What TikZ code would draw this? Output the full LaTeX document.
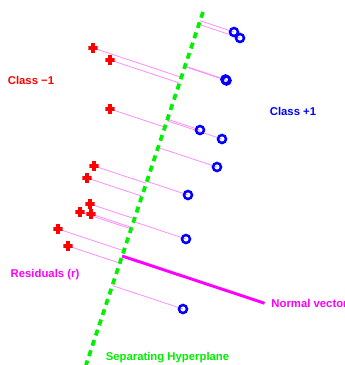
\documentclass[tikz,border=0pt]{standalone}
\usepackage{fontspec}
\setmainfont{Liberation Sans}
\usetikzlibrary{positioning, backgrounds, calc}
\definecolor{hypgreen}{RGB}{0,240,0}
\definecolor{resmag}{RGB}{255,0,255}
\tikzset{
    base/.style = {inner sep=0pt, font=\bfseries\fontsize{8.5}{10}\selectfont},
    % Samples
    neg/.style   = {rectangle, inner sep=0pt, minimum size=7pt,
        path picture={\draw [red, line width=2.3pt]
            (path picture bounding box.north) -- (path picture bounding box.south)
            (path picture bounding box.west) -- (path picture bounding box.east);}},
    posi/.style  = {circle, draw=blue, line width=1.9pt, minimum size=6pt, inner sep=0pt},
    % Lines and labels
    plane/.style    = {draw=hypgreen, line width=2.8pt, dash pattern=on 4.5pt off 3.6pt},
    residual/.style = {draw=resmag!45, line width=0.6pt},
    normal/.style   = {draw=resmag, line width=2.2pt},
    annotation/.style = {base, text=resmag}
}

\begin{document}
\begin{tikzpicture}[x=0.75pt, y=-0.75pt]
    \useasboundingbox (0,0) rectangle (345,365);

    % Hyperplane and its normal
    \coordinate (hA) at (203,12);
    \coordinate (hB) at (86,365);
    \draw [plane] (hA) -- (hB);
    \coordinate (n0) at ($(hA)!(122,256)!(hB)$);
    \coordinate (n1) at ($(n0)+(142.4,47.2)$);
    \draw [normal] (n0) -- (n1);

    % Class +1
    \node (c1) [posi] at (234,32) {};
    \node (c2) [posi] at (240,38) {};
    \node (c3) [posi] at (225.5,79.5) {};
    \node (c4) [posi] at (226.5,80.5) {};
    \node (c5) [posi] at (200,130) {};
    \node (c6) [posi] at (222,139) {};
    \node (c7) [posi] at (217,167) {};
    \node (c8) [posi] at (188,195) {};
    \node (c9) [posi] at (186,239) {};
    \node (c10) [posi] at (183,309) {};

    % Class -1
    \node (m1) [neg] at (93,48) {};
    \node (m2) [neg] at (110,60) {};
    \node (m3) [neg] at (110,109) {};
    \node (m4) [neg] at (94,166) {};
    \node (m5) [neg] at (87,178) {};
    \node (m6) [neg] at (90,204) {};
    \node (m7) [neg] at (80,212) {};
    \node (m8) [neg] at (91,214) {};
    \node (m9) [neg] at (58,229) {};
    \node (m10) [neg] at (68,246) {};

    % Residuals
    \begin{scope}[on background layer]
        \draw [residual] (c1.center) -- ($(hA)!(c1)!(hB)$);
        \draw [residual] (c2.center) -- ($(hA)!(c2)!(hB)$);
        \draw [residual] (c3.center) -- ($(hA)!(c3)!(hB)$);
        \draw [residual] (c4.center) -- ($(hA)!(c4)!(hB)$);
        \draw [residual] (c5.center) -- ($(hA)!(c5)!(hB)$);
        \draw [residual] (c6.center) -- ($(hA)!(c6)!(hB)$);
        \draw [residual] (c7.center) -- ($(hA)!(c7)!(hB)$);
        \draw [residual] (c8.center) -- ($(hA)!(c8)!(hB)$);
        \draw [residual] (c9.center) -- ($(hA)!(c9)!(hB)$);
        \draw [residual] (c10.center) -- ($(hA)!(c10)!(hB)$);
        \draw [residual] (m1.center) -- ($(hA)!(m1)!(hB)$);
        \draw [residual] (m2.center) -- ($(hA)!(m2)!(hB)$);
        \draw [residual] (m3.center) -- ($(hA)!(m3)!(hB)$);
        \draw [residual] (m4.center) -- ($(hA)!(m4)!(hB)$);
        \draw [residual] (m5.center) -- ($(hA)!(m5)!(hB)$);
        \draw [residual] (m6.center) -- ($(hA)!(m6)!(hB)$);
        \draw [residual] (m7.center) -- ($(hA)!(m7)!(hB)$);
        \draw [residual] (m8.center) -- ($(hA)!(m8)!(hB)$);
        \draw [residual] (m9.center) -- ($(hA)!(m9)!(hB)$);
        \draw [residual] (m10.center) -- ($(hA)!(m10)!(hB)$);
    \end{scope}

    % Labels
    \node (negl) [base, text=red] at (31,80) {Class −1};
    \node (posl) [base, text=blue] at (293,111) {Class +1};
    \node (resl) [annotation] at (45,275) {Residuals (r)};
    \node (norl) [annotation, right=5pt of n1] {Normal vector};
    \node (hypl) [base, text=hypgreen] at (167.5,358) {Separating Hyperplane};
\end{tikzpicture}
\end{document}
